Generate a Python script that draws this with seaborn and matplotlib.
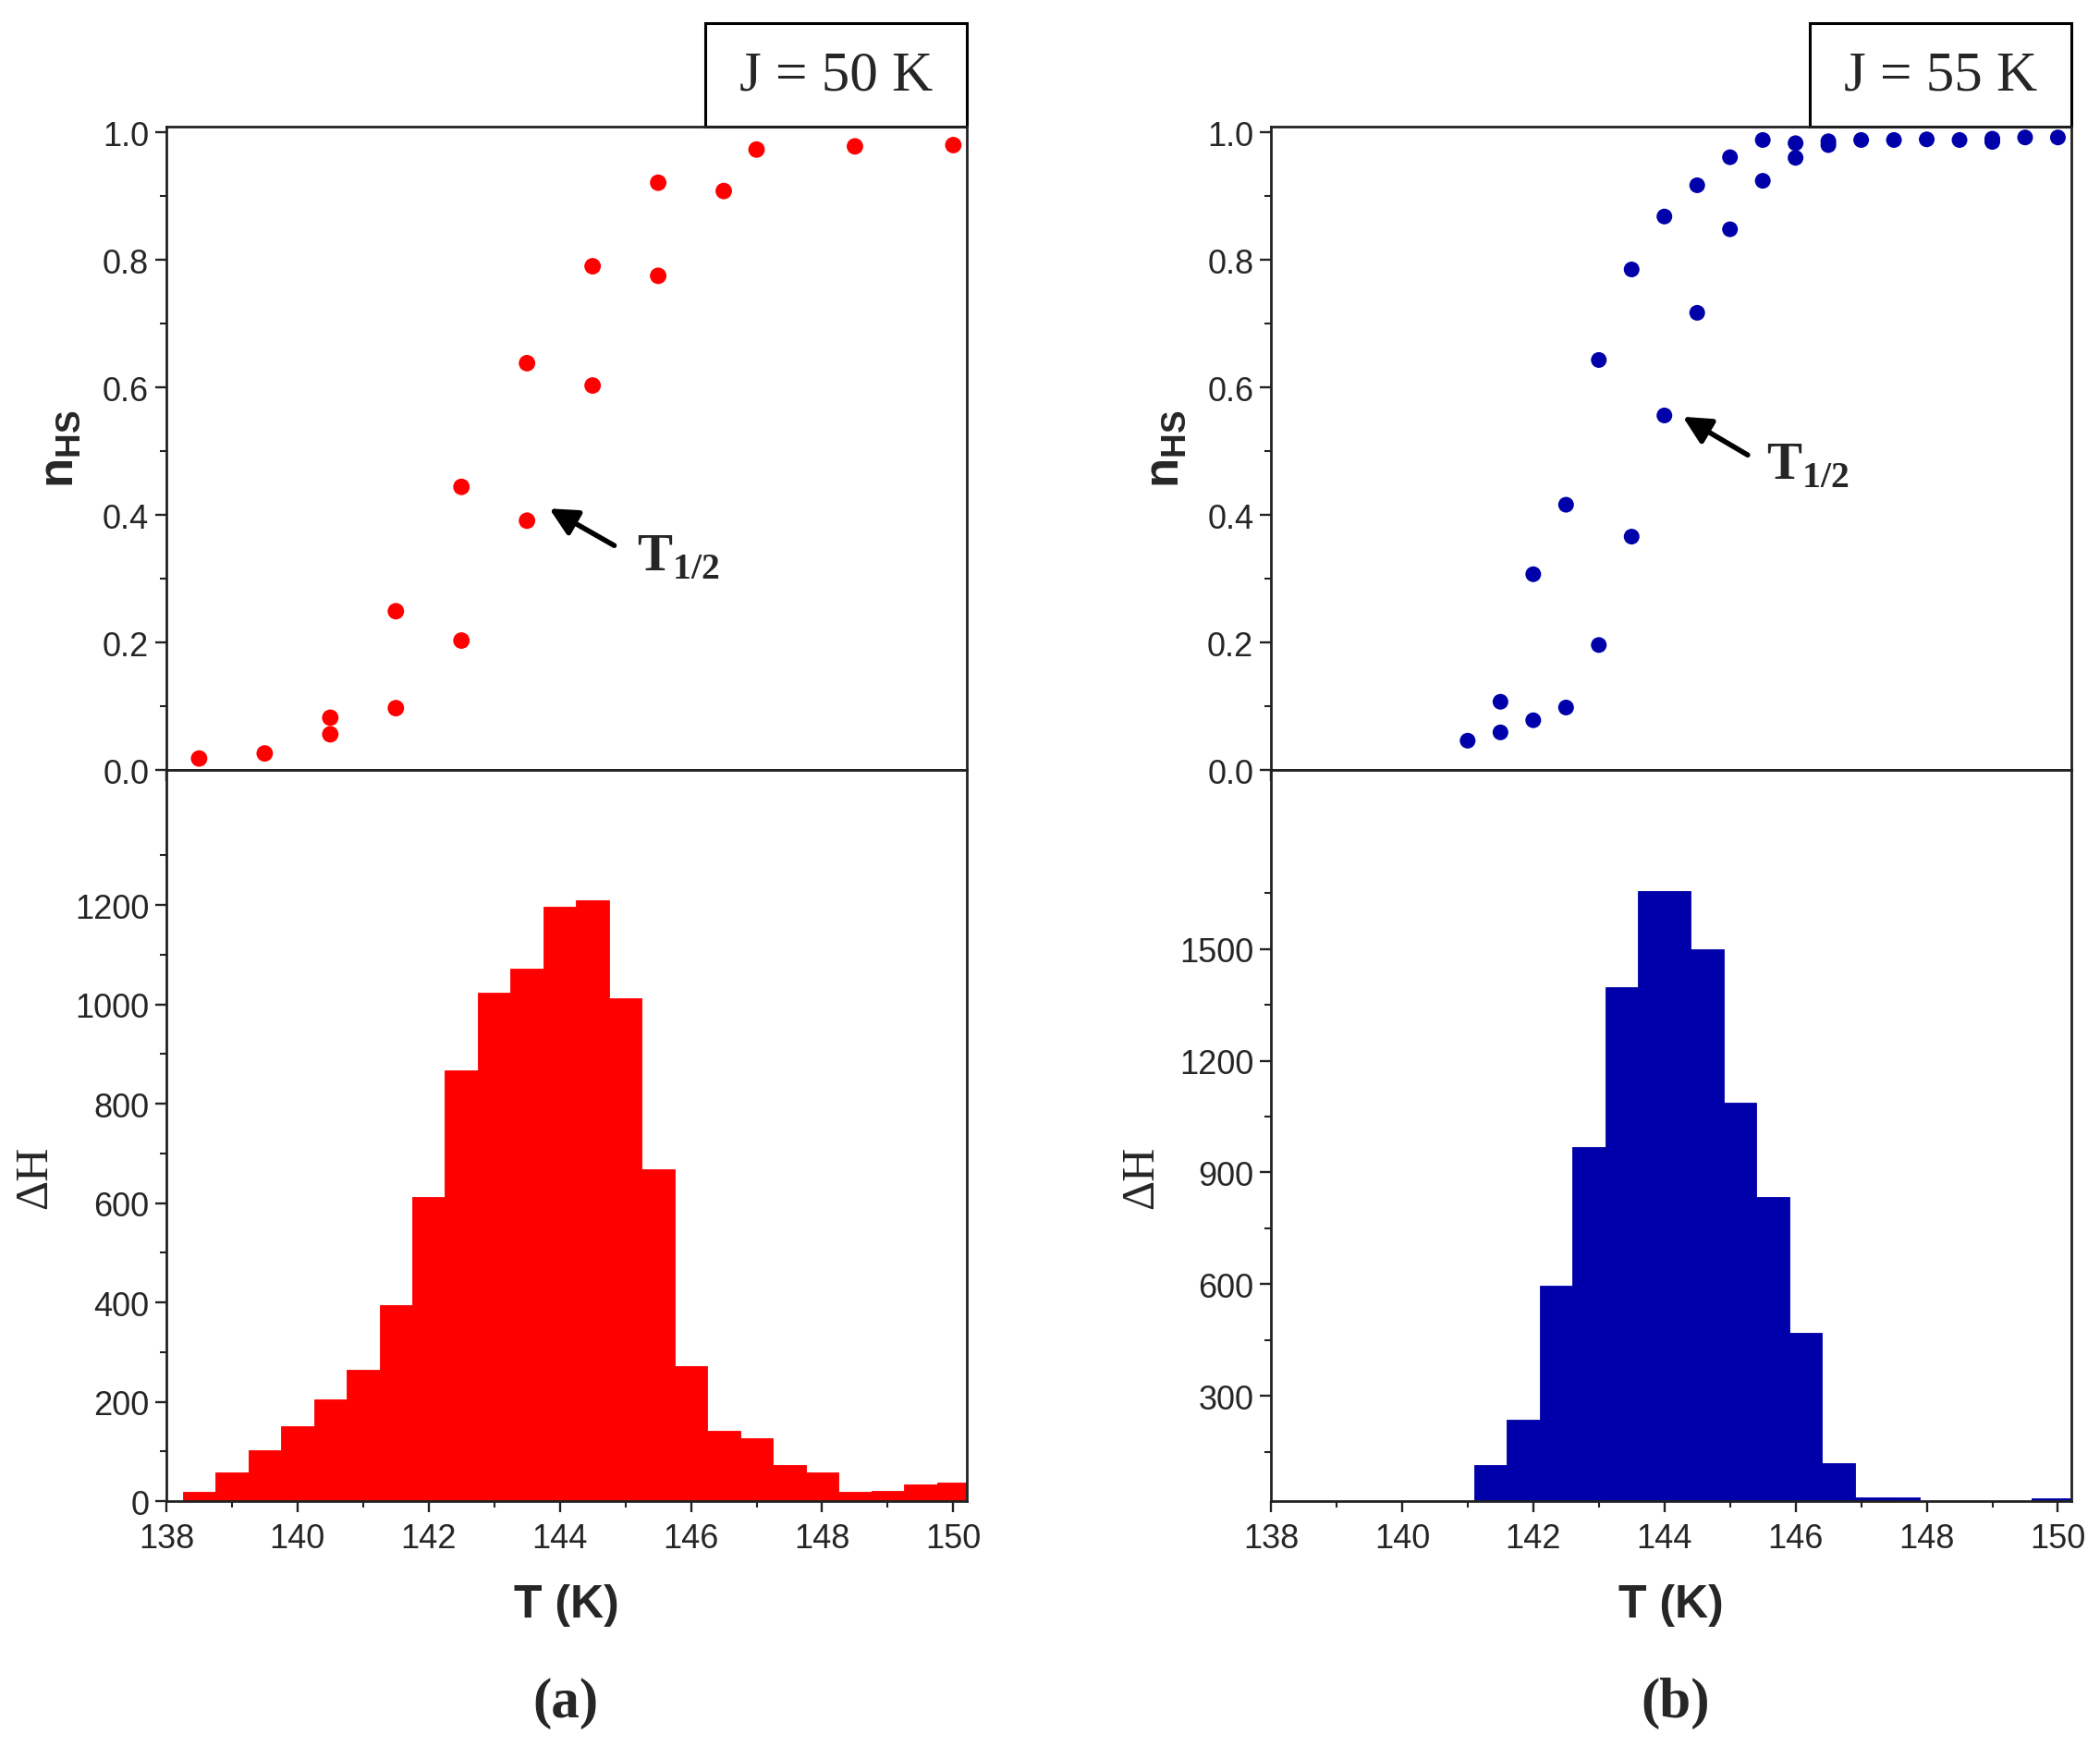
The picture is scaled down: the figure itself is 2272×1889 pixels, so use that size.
import numpy as np
import pandas as pd
import matplotlib
matplotlib.use("Agg")
import matplotlib.pyplot as plt
from matplotlib.ticker import MultipleLocator, FixedLocator, NullFormatter
from matplotlib.patches import Rectangle
import seaborn as sns

# ---------------------------------------------------
# DATA
# ---------------------------------------------------

# n_HS vs T, J = 50 K
t_a = [138.5, 139.5, 140.5, 140.5, 141.5, 141.5, 142.5, 142.5, 143.5, 143.5,
       144.5, 144.5, 145.5, 145.5, 146.5, 147.0, 148.5, 150.0]
n_a = [0.018, 0.026, 0.082, 0.056, 0.249, 0.097, 0.444, 0.203, 0.638, 0.391,
       0.790, 0.603, 0.921, 0.775, 0.908, 0.973, 0.978, 0.980]

# n_HS vs T, J = 55 K
t_b = [141.0, 141.5, 141.5, 142.0, 142.0, 142.5, 142.5, 143.0, 143.0, 143.5,
       143.5, 144.0, 144.0, 144.5, 144.5, 145.0, 145.0, 145.5, 145.5, 146.0,
       146.0, 146.5, 146.5, 147.0, 147.5, 148.0, 148.5, 149.0, 149.0, 149.5,
       150.0]
n_b = [0.046, 0.107, 0.059, 0.307, 0.078, 0.416, 0.098, 0.643, 0.196, 0.785,
       0.366, 0.868, 0.556, 0.917, 0.717, 0.961, 0.848, 0.988, 0.924, 0.983,
       0.960, 0.986, 0.980, 0.988, 0.988, 0.989, 0.988, 0.990, 0.985, 0.992,
       0.992]

# Delta H histogram, J = 50 K (bin centres, 0.5 K wide)
c_a = [138.5, 139.0, 139.5, 140.0, 140.5, 141.0, 141.5, 142.0, 142.5, 143.0,
       143.5, 144.0, 144.5, 145.0, 145.5, 146.0, 146.5, 147.0, 147.5, 148.0,
       148.5, 149.0, 149.5, 150.0]
h_a = [19, 58, 103, 151, 204, 265, 394, 613, 868, 1024,
       1072, 1197, 1209, 1013, 668, 272, 141, 127, 73, 57,
       18, 21, 33, 38]

# Delta H histogram, J = 55 K (bin edges as drawn)
edges_b = [141.1, 141.6, 142.1, 142.6, 143.1, 143.6, 144.4, 144.9, 145.4,
           145.9, 146.4, 146.9, 147.4, 147.9, 149.6, 150.1, 150.6]
h_b = [116, 236, 595, 969, 1398, 1654, 1500, 1086, 835,
       469, 119, 28, 28, 0, 25, 25]

RED = "#ff0000"
BLUE = "#0000aa"
INK = "#222222"

# ---------------------------------------------------
# STYLE
# ---------------------------------------------------

sns.set_style("ticks")
plt.rcParams["font.family"] = ["Liberation Sans", "DejaVu Sans"]
plt.rcParams["mathtext.fontset"] = "custom"
plt.rcParams["mathtext.sf"] = "Liberation Sans:bold"
plt.rcParams["mathtext.bf"] = "Liberation Serif:bold"
plt.rcParams["mathtext.rm"] = "Liberation Serif"
plt.rcParams["axes.edgecolor"] = INK
plt.rcParams["axes.linewidth"] = 1.8

fig = plt.figure(figsize=(22.72, 18.9), dpi=100)

panels = [
    dict(left=0.0792, t=t_a, n=n_a, col=RED, s=165, label="J = 50 K",
         arrow_head=(143.84, 0.41), arrow_tail=(144.83, 0.352),
         t_half=(145.18, 0.315), tag="(a)", tag_x=0.2694,
         nhs_x=-0.104, dh_x=-0.137),
    dict(left=0.6052, t=t_b, n=n_b, col=BLUE, s=150, label="J = 55 K",
         arrow_head=(144.28, 0.554), arrow_tail=(145.27, 0.494),
         t_half=(145.55, 0.459), tag="(b)", tag_x=0.798,
         nhs_x=-0.103, dh_x=-0.135),
]

W = 0.381


def style_axis(ax):
    ax.tick_params(which="major", direction="out", length=8.5, width=1.7,
                   color=INK, labelsize=26, pad=5, top=False, right=False)
    ax.tick_params(which="minor", direction="out", length=5, width=1.5,
                   color=INK, top=False, right=False)
    ax.tick_params(axis="x", which="major", pad=8)
    for sp in ax.spines.values():
        sp.set_visible(True)
        sp.set_color(INK)
        sp.set_linewidth(2.0)


for i, p in enumerate(panels):
    ax_top = fig.add_axes([p["left"], 0.5587, W, 0.3683])
    ax_bot = fig.add_axes([p["left"], 0.1402, W, 0.4185])

    # ---- top: n_HS scatter
    sns.scatterplot(x=p["t"], y=p["n"], color=p["col"], s=p["s"],
                    edgecolor="none", ax=ax_top, zorder=3)
    ax_top.set_xlim(138, 150.2)
    ax_top.set_ylim(0, 1.009)
    ax_top.xaxis.set_major_locator(MultipleLocator(2))
    ax_top.xaxis.set_minor_locator(MultipleLocator(1))
    ax_top.xaxis.set_major_formatter(NullFormatter())
    ax_top.yaxis.set_major_locator(MultipleLocator(0.2))
    ax_top.yaxis.set_minor_locator(MultipleLocator(0.1))
    ax_top.yaxis.set_major_formatter(plt.FormatStrFormatter("%.1f"))
    style_axis(ax_top)
    ax_top.set_ylabel(r"$\mathsf{n}_{\mathsf{HS}}$", fontsize=38)
    ax_top.yaxis.set_label_coords(p["nhs_x"], 0.5)

    ax_top.annotate("", xy=p["arrow_head"], xytext=p["arrow_tail"],
                    arrowprops=dict(arrowstyle="-|>", color="black", lw=4,
                                    mutation_scale=45, shrinkA=0, shrinkB=0))
    ax_top.text(p["t_half"][0], p["t_half"][1], r"$\mathbf{T}_{\mathbf{1/2}}$",
                fontsize=41, ha="left", va="baseline")

    # label box above the top-right corner
    ax_top.add_patch(Rectangle((0.674, 1.0), 0.326, 0.161,
                               transform=ax_top.transAxes, fill=False,
                               edgecolor="black", lw=2.2, clip_on=False))
    ax_top.text(0.837, 1.08, p["label"], transform=ax_top.transAxes,
                ha="center", va="center", fontsize=44,
                family=["Liberation Serif", "DejaVu Serif"])

    # ---- bottom: Delta H histogram
    if i == 0:
        edges = [c - 0.25 for c in c_a] + [c_a[-1] + 0.25]
        mids = c_a
        heights = h_a
    else:
        edges = edges_b
        mids = [(lo + hi) / 2 for lo, hi in zip(edges_b[:-1], edges_b[1:])]
        heights = h_b

    hist_df = pd.DataFrame({"T": mids, "dH": heights})
    sns.histplot(data=hist_df, x="T", weights="dH", bins=edges, stat="count",
                 element="bars", fill=True, color=p["col"], alpha=1,
                 edgecolor=p["col"], linewidth=0.6, ax=ax_bot)
    ax_bot.set_xlim(138, 150.2)
    ax_bot.xaxis.set_major_locator(MultipleLocator(2))
    ax_bot.xaxis.set_minor_locator(MultipleLocator(1))
    if i == 0:
        ax_bot.set_ylim(0, 1472)
        ax_bot.yaxis.set_major_locator(FixedLocator([0, 200, 400, 600, 800, 1000, 1200]))
        ax_bot.yaxis.set_minor_locator(FixedLocator([100, 300, 500, 700, 900, 1100, 1300]))
    else:
        ax_bot.set_ylim(18, 1980)
        ax_bot.yaxis.set_major_locator(FixedLocator([300, 600, 900, 1200, 1500]))
        ax_bot.yaxis.set_minor_locator(FixedLocator([150, 450, 750, 1050, 1350, 1650]))
    style_axis(ax_bot)
    ax_bot.set_xlabel("T (K)", fontsize=36, fontweight="bold")
    ax_bot.xaxis.set_label_coords(0.5, -0.1125)
    ax_bot.set_ylabel("ΔH", fontsize=36,
                      family=["Liberation Serif", "DejaVu Serif"])
    ax_bot.yaxis.set_label_coords(p["dh_x"], 0.444)

    fig.text(p["tag_x"], 0.0249, p["tag"], ha="center", va="center",
             fontsize=44, fontweight="bold",
             family=["Liberation Serif", "DejaVu Serif"])

fig.savefig("out.png", dpi=100)
